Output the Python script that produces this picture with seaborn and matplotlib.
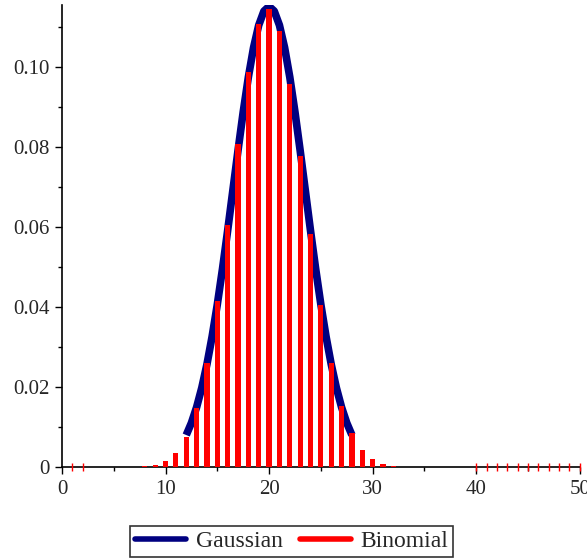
import matplotlib
matplotlib.use("Agg")
import matplotlib.pyplot as plt
from matplotlib.lines import Line2D
from matplotlib.ticker import MultipleLocator
import seaborn as sns
import pandas as pd

# Binomial probabilities (k, P)
binom_k = [8, 9, 10, 11, 12, 13, 14, 15, 16, 17, 18, 19, 20, 21, 22, 23, 24,
           25, 26, 27, 28, 29, 30, 31, 32, 33]
binom_p = [0.00017, 0.00053, 0.00144, 0.00349, 0.00756, 0.01474, 0.02597,
           0.04155, 0.06059, 0.08079, 0.09874, 0.11087, 0.11456, 0.10910,
           0.09588, 0.07781, 0.05836, 0.04046, 0.02594, 0.01537, 0.00842,
           0.00426, 0.00199, 0.00086, 0.00034, 0.00012]
# positions of the zero-height binomial marks along the axis
zero_k = [1, 2, 40, 41, 42, 43, 44, 45, 46, 47, 48, 49, 50]

# Gaussian curve
gauss_x = [12, 12.5, 13, 13.5, 14, 14.5, 15, 15.5, 16, 16.5, 17, 17.5, 18,
           18.5, 19, 19.5, 20, 20.5, 21, 21.5, 22, 22.5, 23, 23.5, 24, 24.5,
           25, 25.5, 26, 26.5, 27, 27.5, 28]
gauss_y = [0.00800, 0.01105, 0.01495, 0.01981, 0.02570, 0.03266, 0.04064,
           0.04953, 0.05913, 0.06913, 0.07915, 0.08876, 0.09748, 0.10486,
           0.11046, 0.11397, 0.11516, 0.11397, 0.11046, 0.10486, 0.09748,
           0.08876, 0.07915, 0.06913, 0.05913, 0.04953, 0.04064, 0.03266,
           0.02570, 0.01981, 0.01495, 0.01105, 0.00800]

x_ticks = [0, 10, 20, 30, 40, 50]
y_ticks = [0, 0.02, 0.04, 0.06, 0.08, 0.10]
y_labels = ["0", "0.02", "0.04", "0.06", "0.08", "0.10"]

sns.set_style("ticks")
plt.rcParams["font.family"] = ["Liberation Serif", "DejaVu Serif"]
plt.rcParams["font.size"] = 15

fig = plt.figure(figsize=(5.87, 5.58), dpi=100)
ax = fig.add_axes([0.1056, 0.163, 0.882, 0.828])

RED = "#ff0000"
NAVY = "#000080"

gdf = pd.DataFrame({"x": gauss_x, "y": gauss_y})
sns.lineplot(data=gdf, x="x", y="y", ax=ax, color=NAVY, linewidth=5.5,
             zorder=2, solid_capstyle="butt")

ax.bar(binom_k, binom_p, width=0.5, color=RED, linewidth=0, zorder=3)
ax.plot(zero_k, [0] * len(zero_k), linestyle="none", marker="|",
        markersize=6, markeredgewidth=1, color=RED, zorder=4, clip_on=False)

ax.set_xlim(0, 50)
ax.set_ylim(0, 0.1155)
ax.set_xticks(x_ticks)
ax.set_xticklabels([str(t) for t in x_ticks])
ax.set_yticks(y_ticks)
ax.set_yticklabels(y_labels)
ax.xaxis.set_minor_locator(MultipleLocator(5))
ax.yaxis.set_minor_locator(MultipleLocator(0.01))
ax.tick_params(axis="both", which="major", length=5, width=1, color="black",
               labelsize=15, pad=4)
ax.tick_params(axis="both", which="minor", length=3, width=1, color="black")
ax.set_xlabel("")
ax.set_ylabel("")
for s in ["top", "right"]:
    ax.spines[s].set_visible(False)
for s in ["left", "bottom"]:
    ax.spines[s].set_linewidth(1.2)
    ax.spines[s].set_color("black")

handles = [Line2D([0], [0], color=NAVY, linewidth=4),
           Line2D([0], [0], color=RED, linewidth=4)]
leg = fig.legend(handles, ["Gaussian", "Binomial"], loc="center",
                 bbox_to_anchor=(0.497, 0.03), ncol=2, frameon=True,
                 fancybox=False, edgecolor="black", fontsize=17,
                 handlelength=2.15, columnspacing=0.75, handletextpad=0.42,
                 borderpad=0.2, borderaxespad=0.0)
leg.get_frame().set_linewidth(1.2)

fig.savefig("out.png", dpi=100)
